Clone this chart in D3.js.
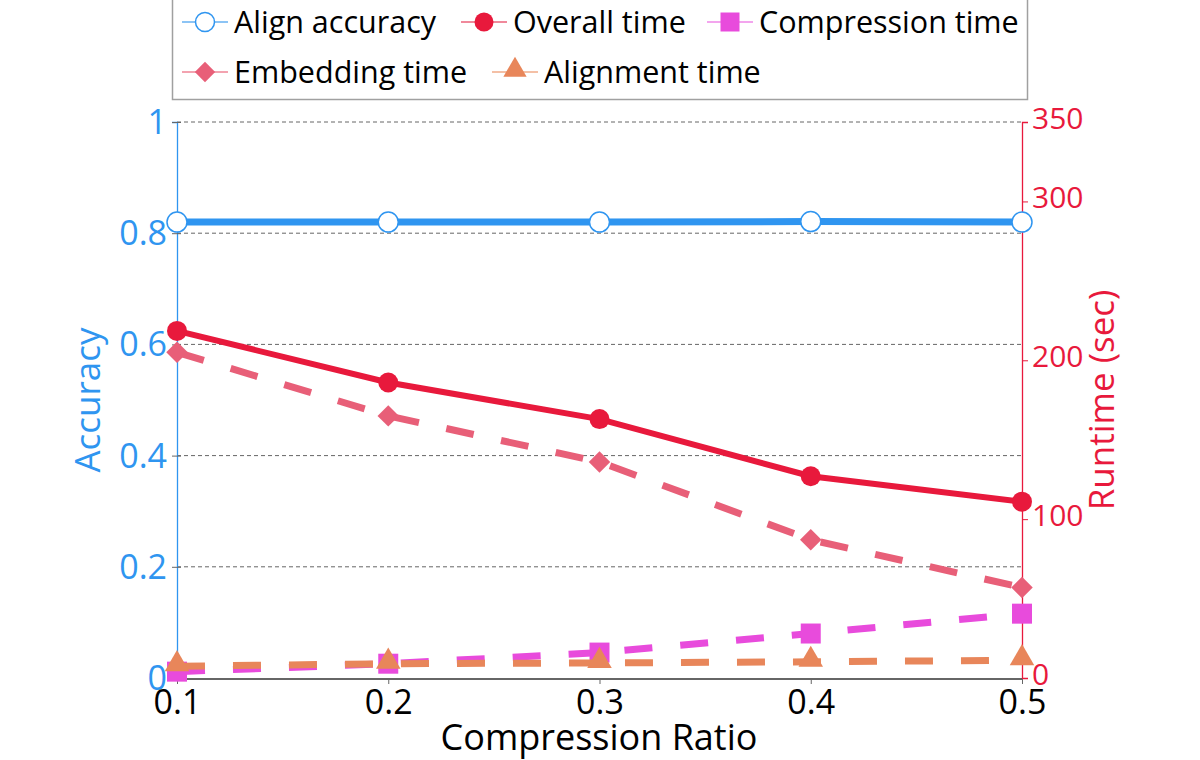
<!DOCTYPE html>
<html><head><meta charset="utf-8">
<script src="https://cdn.jsdelivr.net/npm/d3@7"></script>
<style>body{margin:0;background:#fff}svg{display:block;font-family:"Open Sans","Noto Sans",sans-serif}</style>
</head><body><svg id="c" width="1200" height="760"></svg>
<script>
const ratios = [0.1, 0.2, 0.3, 0.4, 0.5];
const alignAccuracy = [0.82, 0.82, 0.82, 0.821, 0.82];
const overallTime = [218.5, 186, 163, 127, 111];
const embeddingTime = [205, 165, 136, 87, 57];
const compressionTime = [4, 9, 16, 28, 40.5];
const alignmentTime = [7.4, 9, 9.5, 10.2, 11.2];
const accTicks = [0, 0.2, 0.4, 0.6, 0.8, 1];
const timeTicks = [0, 100, 200, 300, 350];
const xTicks = [0.1, 0.2, 0.3, 0.4, 0.5];

const svg = d3.select("#c");
const L = 177, R = 1022, T = 122, B = 678;
const x = d3.scaleLinear().domain([0.1, 0.5]).range([L, R]);
const yL = d3.scaleLinear().domain([0, 1]).range([B, T]);
const yR = d3.scaleLinear().domain([0, 350]).range([B, T]);

const cBlue = "#2f95f0", cRed = "#e8193c", cEmb = "#e85f78", cComp = "#e84bdc", cAlign = "#e8865a";

// gridlines
svg.append("g").selectAll("line").data(accTicks.filter(d => d > 0)).join("line")
  .attr("x1", L).attr("x2", R).attr("y1", d => yL(d)).attr("y2", d => yL(d))
  .attr("stroke", "#666").attr("stroke-width", 1).attr("stroke-dasharray", "4,3");

// left axis
const gl = svg.append("g").attr("transform", `translate(${L},0)`)
  .call(d3.axisLeft(yL).tickValues(accTicks).tickFormat(d3.format("~g")).tickSize(5).tickPadding(5));
gl.select(".domain").attr("stroke", cBlue).attr("stroke-width", 1.3);
gl.selectAll(".tick line").attr("stroke", "#666").attr("x2", -5).attr("x1", 4);
gl.selectAll(".tick text").attr("fill", cBlue).attr("font-size", 34).attr("font-family", "Open Sans");
gl.selectAll(".tick text").attr("dy", "0.34em");

// right axis
const gr = svg.append("g").attr("transform", `translate(${R},0)`)
  .call(d3.axisRight(yR).tickValues(timeTicks).tickSize(6).tickPadding(4));
gr.select(".domain").attr("stroke", cRed).attr("stroke-width", 1.3);
gr.selectAll(".tick line").attr("stroke", cRed);
gr.selectAll(".tick text").attr("fill", cRed).attr("font-size", 30).attr("font-family", "Open Sans").attr("dy", "0.2em");

// bottom axis
const gb = svg.append("g").attr("transform", `translate(0,${B + 1})`)
  .call(d3.axisBottom(x).tickValues(xTicks).tickFormat(d3.format(".1f")).tickSize(5).tickPadding(6));
gb.select(".domain").attr("stroke", "#333").attr("stroke-width", 1.3).attr("d", `M${L},0H${R}`);
gb.selectAll(".tick line").attr("stroke", "#666");
gb.selectAll(".tick text").attr("fill", "#000").attr("font-size", 34).attr("font-family", "Open Sans");

// axis titles
svg.append("text").attr("transform", "translate(100,400) rotate(-90)").attr("text-anchor", "middle")
  .attr("font-size", 35).attr("fill", cBlue).text("Accuracy");
svg.append("text").attr("transform", "translate(1114,400) rotate(-90)").attr("text-anchor", "middle")
  .attr("font-size", 35).attr("fill", cRed).text("Runtime (sec)");
svg.append("text").attr("x", 599).attr("y", 750).attr("text-anchor", "middle")
  .attr("font-size", 36).attr("fill", "#000").text("Compression Ratio");

// series
const series = [
  {name: "Align accuracy", vals: alignAccuracy, y: yL, color: cBlue, w: 7, dash: null, sym: "circleOpen", legendLine: "#8cc4f5"},
  {name: "Overall time", vals: overallTime, y: yR, color: cRed, w: 6, dash: null, sym: "circle", legendLine: "#f0899b"},
  {name: "Compression time", vals: compressionTime, y: yR, color: cComp, w: 7, dash: "28,28", sym: "square", legendLine: "#f3a5ee"},
  {name: "Embedding time", vals: embeddingTime, y: yR, color: cEmb, w: 7, dash: "28,28", sym: "diamond", legendLine: "#f3a3b0"},
  {name: "Alignment time", vals: alignmentTime, y: yR, color: cAlign, w: 7, dash: "28,28", sym: "triangle", legendLine: "#f4c0a6"}
];
const drawOrder = [2, 4, 3, 1, 0];

function marker(g, s, cx, cy, k) {
  if (s.sym === "circleOpen") {
    g.append("circle").attr("cx", cx).attr("cy", cy).attr("r", 10 * k).attr("fill", "#fff").attr("stroke", s.color).attr("stroke-width", 1.5);
  } else if (s.sym === "circle") {
    g.append("circle").attr("cx", cx).attr("cy", cy).attr("r", 10 * k).attr("fill", s.color);
  } else if (s.sym === "square") {
    g.append("path").attr("transform", `translate(${cx},${cy})`).attr("d", d3.symbol(d3.symbolSquare, 400 * k * k)()).attr("fill", s.color);
  } else if (s.sym === "diamond") {
    g.append("path").attr("transform", `translate(${cx},${cy}) rotate(45)`).attr("d", d3.symbol(d3.symbolSquare, 230 * k * k)()).attr("fill", s.color);
  } else if (s.sym === "triangle") {
    g.append("path").attr("transform", `translate(${cx},${cy - 2 * k})`).attr("d", d3.symbol(d3.symbolTriangle, 260 * k * k)()).attr("fill", s.color);
  }
}

drawOrder.forEach(i => {
  const s = series[i];
  const g = svg.append("g");
  const line = d3.line().x((d, j) => x(ratios[j])).y(d => s.y(d));
  g.append("path").datum(s.vals).attr("d", line).attr("fill", "none").attr("stroke", s.color)
    .attr("stroke-width", s.w).attr("stroke-dasharray", s.dash);
  s.vals.forEach((v, j) => marker(g, s, x(ratios[j]), s.y(v), 1));
});

// legend
const lg = svg.append("g");
lg.append("rect").attr("x", 172.5).attr("y", -2).attr("width", 855).attr("height", 101.5)
  .attr("fill", "#fff").attr("stroke", "#a0a0a0").attr("stroke-width", 1.5);
const legendPos = [
  {lx: 182, row: 22}, {lx: 461, row: 22}, {lx: 707, row: 22},
  {lx: 182, row: 72}, {lx: 492, row: 72}
];
series.forEach((s, i) => {
  const p = legendPos[i];
  const g = lg.append("g");
  g.append("line").attr("x1", p.lx).attr("x2", p.lx + 46).attr("y1", p.row).attr("y2", p.row)
    .attr("stroke", s.legendLine).attr("stroke-width", 2);
  marker(g, s, p.lx + 23, p.row, 0.95);
  g.append("text").attr("x", p.lx + 52).attr("y", p.row).attr("dy", "0.35em")
    .attr("font-size", 30.5).attr("fill", "#000").text(s.name);
});
</script></body></html>
